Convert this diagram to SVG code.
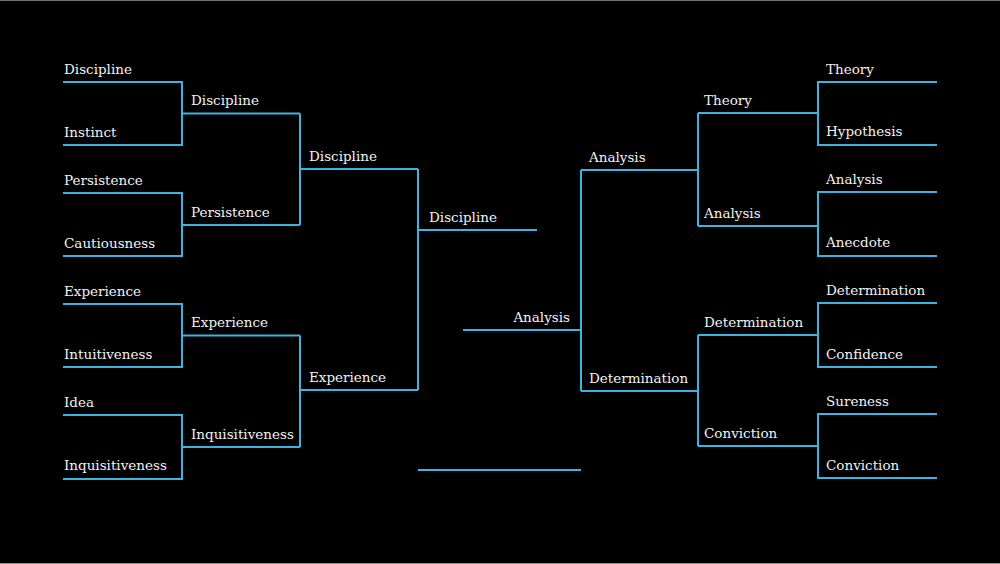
<svg xmlns="http://www.w3.org/2000/svg" width="1000" height="564" viewBox="0 0 1000 564">
<style>
text{font-family:"DejaVu Serif","Liberation Serif",serif;font-size:13.5px;fill:#f2f2f2}
.c{fill:none;stroke:#3ab4e0;stroke-width:2}
.e{text-anchor:end}
</style>
<rect x="0" y="0" width="1000" height="564" fill="#000"/>
<line x1="0" y1="0.5" x2="1000" y2="0.5" stroke="#707070"/>
<line x1="0" y1="563.5" x2="1000" y2="563.5" stroke="#909090"/>
<g id="connectors">
<path class="c" d="M63 82H182V145H63M182 113.5H300M63 193H182V256H63M182 225H300M300 113.5V225M300 169H418"/>
<path class="c" d="M63 304H182V367H63M182 335.5H300M63 415H182V479H63M182 447H300M300 335.5V447M300 390H418"/>
<path class="c" d="M418 169V390M418 230H537"/>
<path class="c" d="M463 330H581M418 470H581"/>
<path class="c" d="M937 82H818V145H937M818 113H698M937 192H818V256H937M818 226H698M698 113V226M698 170H581"/>
<path class="c" d="M937 303H818V367H937M818 335H698M937 414H818V478H937M818 446H698M698 335V446M698 391H581"/>
<path class="c" d="M581 170V391"/>
</g>
<g id="n-l1"><text x="64" y="74">Discipline</text></g>
<g id="n-l2"><text x="64" y="137">Instinct</text></g>
<g id="n-l3"><text x="64" y="185">Persistence</text></g>
<g id="n-l4"><text x="64" y="248">Cautiousness</text></g>
<g id="n-l5"><text x="64" y="296">Experience</text></g>
<g id="n-l6"><text x="64" y="359">Intuitiveness</text></g>
<g id="n-l7"><text x="64" y="407">Idea</text></g>
<g id="n-l8"><text x="64" y="470">Inquisitiveness</text></g>
<g id="n-l9"><text x="191" y="105">Discipline</text></g>
<g id="n-l10"><text x="191" y="216.5">Persistence</text></g>
<g id="n-l11"><text x="191" y="327">Experience</text></g>
<g id="n-l12"><text x="191" y="438.5">Inquisitiveness</text></g>
<g id="n-l13"><text x="309" y="161">Discipline</text></g>
<g id="n-l14"><text x="309" y="382">Experience</text></g>
<g id="n-l15"><text x="429" y="221.5">Discipline</text></g>
<g id="n-final"><text class="e" x="570" y="321.5">Analysis</text></g>
<g id="n-r1"><text x="826" y="73.5">Theory</text></g>
<g id="n-r2"><text x="826" y="136">Hypothesis</text></g>
<g id="n-r3"><text x="826" y="184">Analysis</text></g>
<g id="n-r4"><text x="826" y="247">Anecdote</text></g>
<g id="n-r5"><text x="826" y="295">Determination</text></g>
<g id="n-r6"><text x="826" y="358.5">Confidence</text></g>
<g id="n-r7"><text x="826" y="406">Sureness</text></g>
<g id="n-r8"><text x="826" y="469.5">Conviction</text></g>
<g id="n-r9"><text x="704" y="104.5">Theory</text></g>
<g id="n-r10"><text x="704" y="217.5">Analysis</text></g>
<g id="n-r11"><text x="704" y="326.5">Determination</text></g>
<g id="n-r12"><text x="704" y="437.5">Conviction</text></g>
<g id="n-r13"><text x="589" y="161.5">Analysis</text></g>
<g id="n-r14"><text x="589" y="382.5">Determination</text></g>
</svg>
